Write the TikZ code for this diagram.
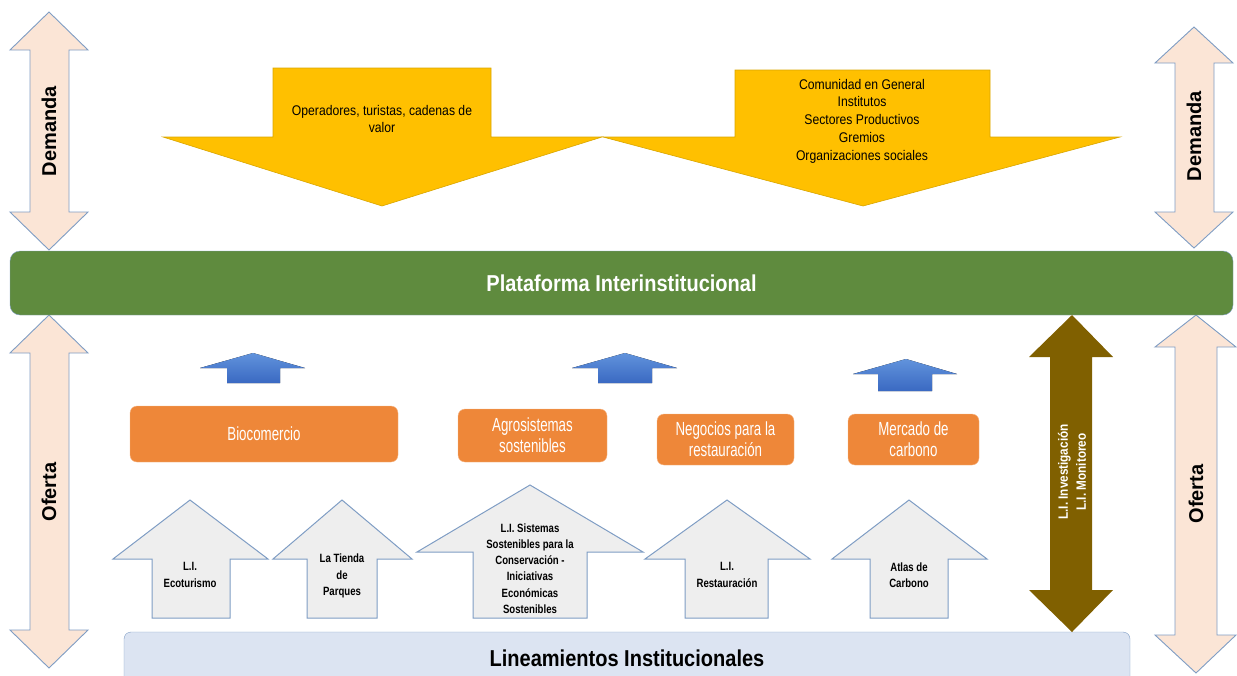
\documentclass[tikz,border=0pt]{standalone}
\usepackage{fontspec}
\setmainfont{Liberation Sans}
\newfontfamily\narrowfont[FakeStretch=0.87]{Liberation Sans}
\newfontfamily\agencyfont[FakeStretch=0.7]{Liberation Sans}
\newfontfamily\smallagency[FakeStretch=0.8]{Liberation Sans}
\definecolor{peach}{HTML}{FBE5D6}
\definecolor{edgeblue}{HTML}{7F9DC4}
\definecolor{platgreen}{HTML}{5F8B3E}
\definecolor{goldy}{HTML}{FFC000}
\definecolor{goldedge}{HTML}{D9A600}
\definecolor{orangebox}{HTML}{EE8739}
\definecolor{greyarrow}{HTML}{EEEEEE}
\definecolor{linefill}{HTML}{DCE4F2}
\definecolor{brownarrow}{HTML}{806000}
\definecolor{bluetop}{HTML}{6193DC}
\definecolor{bluebot}{HTML}{3A69C2}

\begin{document}
\begin{tikzpicture}[x=1pt,y=-1pt,
    sidearrow/.style={fill=peach,draw=edgeblue,line width=0.9pt,line join=miter},
    yellowarrow/.style={fill=goldy,draw=goldedge,line width=0.6pt},
    greyup/.style={fill=greyarrow,draw=edgeblue,line width=1pt},
    blueup/.style={top color=bluetop,bottom color=bluebot,draw=none},
    sidetext/.style={rotate=90,font=\fontsize{20}{24}\selectfont\bfseries},
    yellowtext/.style={align=center,font=\narrowfont\fontsize{14}{17.8}\selectfont},
    orangebox/.style={fill=orangebox,draw=orangebox!60!white,rounded corners=7pt,
        text=white,align=center,font=\agencyfont\fontsize{19}{21}\selectfont},
    greytext/.style={align=center,font=\smallagency\bfseries\fontsize{12}{16.2}\selectfont}]
\useasboundingbox (0,0) rectangle (1237,675);

% demanda / oferta arrows on both sides
\draw[sidearrow] (49,12) -- (88,50) -- (69,50) -- (69,212) -- (88,212) -- (49,250)
    -- (10,212) -- (30,212) -- (30,50) -- (10,50) -- cycle;
\draw[sidearrow] (49,315) -- (88,353) -- (69,353) -- (69,630) -- (88,630) -- (49,668)
    -- (10,630) -- (30,630) -- (30,353) -- (10,353) -- cycle;
\draw[sidearrow] (1194,27) -- (1233,63) -- (1214,63) -- (1214,212) -- (1233,212) -- (1194,248)
    -- (1155,212) -- (1175,212) -- (1175,63) -- (1155,63) -- cycle;
\draw[sidearrow] (1196,315) -- (1236,347) -- (1217,347) -- (1217,635) -- (1236,635) -- (1196,673)
    -- (1155,635) -- (1175,635) -- (1175,347) -- (1155,347) -- cycle;
\node[sidetext] (demandaL) at (49,131) {Demanda};
\node[sidetext] (ofertaL) at (49,492) {Oferta};
\node[sidetext] (demandaR) at (1194,136) {Demanda};
\node[sidetext] (ofertaR) at (1196,494) {Oferta};

% yellow arrows (demand groups)
\draw[yellowarrow] (273,68) -- (491,68) -- (491,137) -- (602,137) -- (382,206)
    -- (163,137) -- (273,137) -- cycle;
\draw[yellowarrow] (735,70) -- (990,70) -- (990,137) -- (1120,137) -- (863,206)
    -- (603,137) -- (735,137) -- cycle;
\node[yellowtext] (operadores) at (382,119) {Operadores, turistas, cadenas de\\valor};
\node[yellowtext] (comunidad) at (862,121) {Comunidad en General\\Institutos\\Sectores Productivos\\Gremios\\Organizaciones sociales};

% platform and base
\node[fill=platgreen,draw=edgeblue,rounded corners=10pt,minimum width=1223pt,minimum height=64pt,
    text=white,font=\narrowfont\bfseries\fontsize{23}{26}\selectfont] (plataforma) at (621.5,283) {Plataforma Interinstitucional};
\node[fill=linefill,draw=edgeblue,rounded corners=7pt,minimum width=1006pt,minimum height=52pt,
    font=\narrowfont\bfseries\fontsize{23}{26}\selectfont] (lineamientos) at (627,658) {Lineamientos Institucionales};

% blue arrows
\fill[blueup] (253,353) -- (305,368) -- (280,368) -- (280,383) -- (227,383) -- (227,368) -- (200,368) -- cycle;
\fill[blueup] (625,353) -- (677,368) -- (652,368) -- (652,383) -- (598,383) -- (598,368) -- (572,368) -- cycle;
\fill[blueup] (906,359) -- (957,374) -- (932,374) -- (932,391) -- (878,391) -- (878,374) -- (853,374) -- cycle;

% orange boxes
\node[orangebox,minimum width=268pt,minimum height=56pt] (biocomercio) at (264,434) {Biocomercio};
\node[orangebox,minimum width=149pt,minimum height=53pt] (agro) at (532.5,435.5) {Agrosistemas\\sostenibles};
\node[orangebox,minimum width=137pt,minimum height=51pt] (negocios) at (725.5,439.5) {Negocios para la\\restauración};
\node[orangebox,minimum width=131pt,minimum height=51pt] (mercado) at (913.5,439.5) {Mercado de\\carbono};

% grey up arrows (lineamientos)
\draw[greyup] (190,500) -- (268,559) -- (230,559) -- (230,618) -- (152,618) -- (152,559) -- (113,559) -- cycle;
\draw[greyup] (342,500) -- (412,559) -- (377,559) -- (377,618) -- (307,618) -- (307,559) -- (273,559) -- cycle;
\draw[greyup] (530,485) -- (643,552) -- (587,552) -- (587,618) -- (473,618) -- (473,552) -- (417,552) -- cycle;
\draw[greyup] (727,500) -- (810,559) -- (768,559) -- (768,618) -- (685,618) -- (685,559) -- (645,559) -- cycle;
\draw[greyup] (909,500) -- (987,559) -- (948,559) -- (948,618) -- (870,618) -- (870,559) -- (832,559) -- cycle;
\node[greytext] (ecoturismo) at (190,575) {L.I.\\Ecoturismo};
\node[greytext] (tienda) at (342,576) {La Tienda\\de\\Parques};
\node[greytext] (sistemas) at (530,568.5) {L.I. Sistemas\\Sostenibles para la\\Conservación -\\Iniciativas\\Económicas\\Sostenibles};
\node[greytext] (restauracion) at (727,575) {L.I.\\Restauración};
\node[greytext] (atlas) at (909,575) {Atlas de\\Carbono};

% research / monitoring arrow
\fill[brownarrow] (1072,315) -- (1113,357) -- (1092,357) -- (1092,590) -- (1113,590) -- (1072,632)
    -- (1029,590) -- (1050,590) -- (1050,357) -- (1029,357) -- cycle;
\node[rotate=90,text=white,align=center,font=\narrowfont\bfseries\fontsize{13.5}{18}\selectfont] (investigacion) at (1072,472) {L.I. Investigación\\L.I. Monitoreo};
\end{tikzpicture}
\end{document}
